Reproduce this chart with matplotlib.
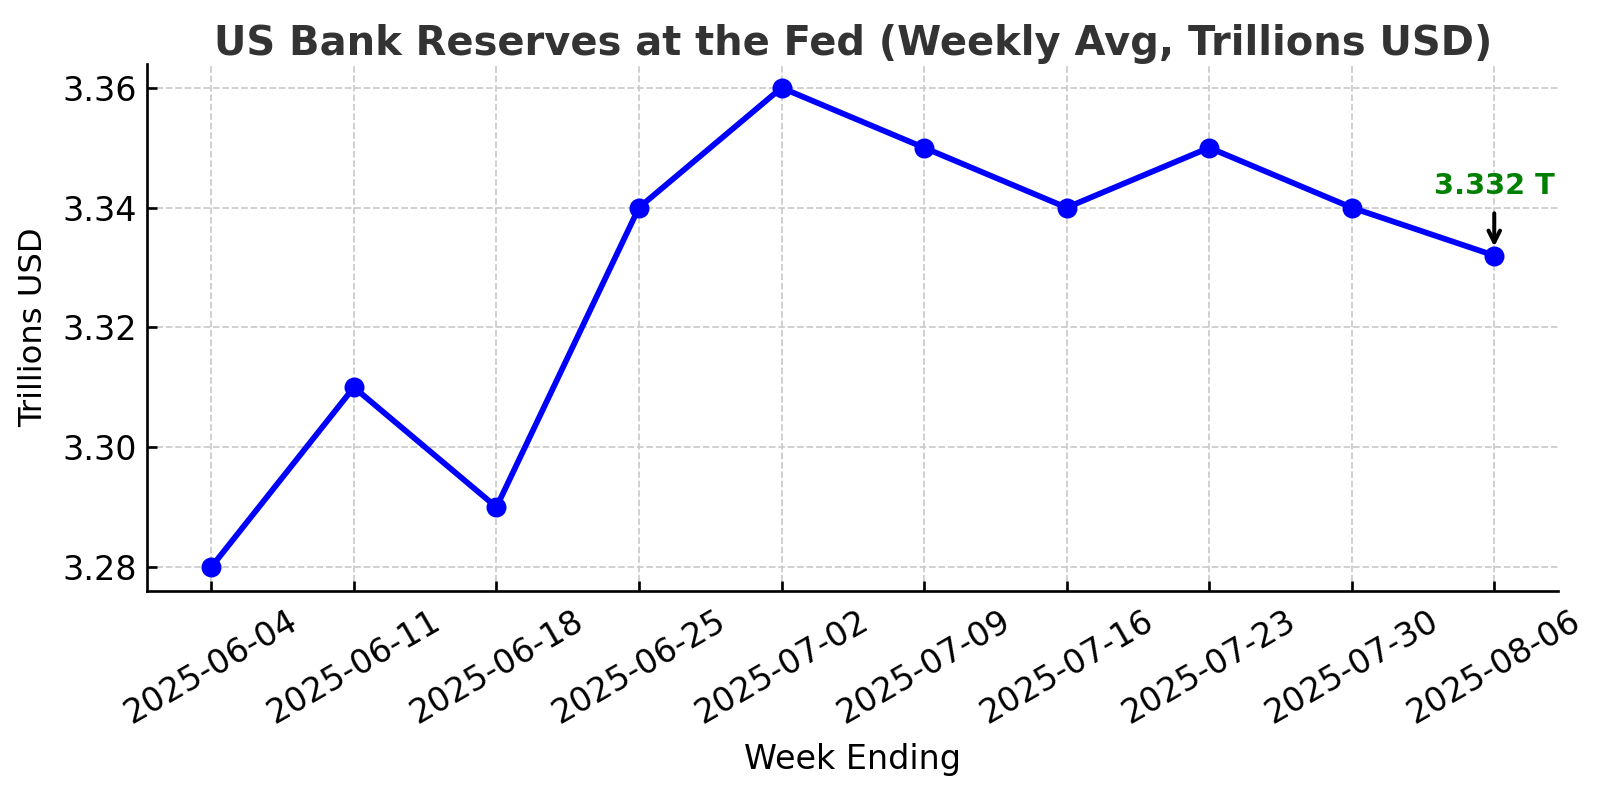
import matplotlib
matplotlib.use('Agg')
import matplotlib.pyplot as plt

weeks = ['2025-06-04', '2025-06-11', '2025-06-18', '2025-06-25', '2025-07-02',
         '2025-07-09', '2025-07-16', '2025-07-23', '2025-07-30', '2025-08-06']
reserves = [3.28, 3.31, 3.29, 3.34, 3.36, 3.35, 3.34, 3.35, 3.34, 3.332]
last_label = '3.332 T'

fig = plt.figure(figsize = (10, 4.925), dpi = 160)
ax = plt.subplot()
ax.plot(weeks, reserves, color = 'blue', linewidth = 2.6, marker = 'o', markersize = 8)
ax.annotate(last_label, xy = (len(weeks) - 1, reserves[-1]), xytext = (0, 25),
            textcoords = 'offset points', ha = 'center', va = 'bottom',
            color = 'green', fontsize = 13, fontweight = 'bold',
            arrowprops = dict(arrowstyle = '->', color = 'black', lw = 1.8,
                              shrinkA = 4, shrinkB = 4))
ax.set_title('US Bank Reserves at the Fed (Weekly Avg, Trillions USD)',
             fontsize = 18, fontweight = 'bold', color = '#333333', pad = 4)
ax.set_xlabel('Week Ending', fontsize = 15, labelpad = 6)
ax.set_ylabel('Trillions USD', fontsize = 14.5, labelpad = 6)
ax.tick_params(axis = 'both', labelsize = 15, width = 1.2, length = 4.5, direction = 'in')
ax.tick_params(axis = 'x', pad = 6)
ax.tick_params(axis = 'y', pad = 4.5)
plt.xticks(rotation = 30)
ax.grid(True, linestyle = '--', color = '#cccccc', linewidth = 0.8)
ax.spines['top'].set_visible(False)
ax.spines['right'].set_visible(False)
ax.spines['left'].set_linewidth(1.2)
ax.spines['bottom'].set_linewidth(1.2)
ax.set_yticks([3.28, 3.30, 3.32, 3.34, 3.36])
plt.subplots_adjust(left = 0.092, right = 0.974, top = 0.919, bottom = 0.25)
plt.savefig('out.png', dpi = 160)
